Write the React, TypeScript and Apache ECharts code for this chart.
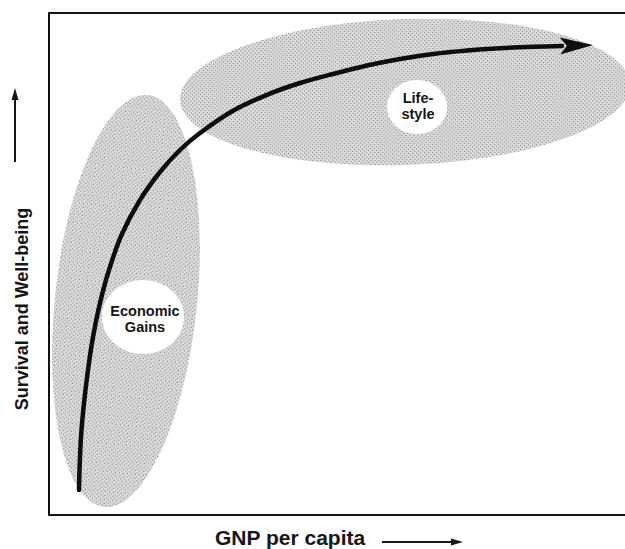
import React, { useEffect, useRef } from "react";
import * as echarts from "echarts";

// Axis ranges (arbitrary units: GNP per capita, survival and well-being)
const xRange = [0, 576];
const yRange = [0, 502];

// Main curve
const curveX = [30, 30.5, 32, 35, 39, 44, 51, 60, 72.5, 91, 111, 131, 151, 184, 218, 251, 284, 318, 351, 384, 418, 451, 484, 513];
const curveY = [25, 45, 78, 112, 145, 178, 212, 245, 280, 315, 343, 365, 382, 404.3, 420.2, 432, 441, 449.5, 456, 461, 464.5, 466.8, 468.2, 469];
const arrowBase = [513, 469];
const arrowTip = [544, 470];

// Shaded regions: [cx, cy, rx, ry, angleDeg]
const regionNames = ["Economic Gains", "Life-style"];
const regionShapes = [
  [77, 214, 71, 207, -6],
  [356, 423, 225, 73, 2],
];
// White discs holding the labels: [cx, cy, rx, ry]
const labelDiscs = [
  [94, 198, 41, 37],
  [368, 408, 30, 27],
];
const labelTexts = ["Economic\nGains", "Life-\nstyle"];
const labelPos = [
  [96, 196],
  [369, 409],
];

const xTitle = "GNP per capita";
const yTitle = "Survival and Well-being";

const FONT = '"Liberation Sans", Arial, Helvetica, sans-serif';

function makePattern() {
  const n = 4;
  const c = document.createElement("canvas");
  c.width = n;
  c.height = n;
  const ctx = c.getContext("2d");
  if (ctx) {
    ctx.fillStyle = "#ececec";
    ctx.fillRect(0, 0, n, n);
    const dots = [
      [1, 1],
      [3, 3],
    ];
    ctx.fillStyle = "#cbcbcb";
    dots.forEach(([x, y]) => {
      [
        [1, 0],
        [-1, 0],
        [0, 1],
        [0, -1],
      ].forEach(([ox, oy]) => ctx.fillRect((x + ox + n) % n, (y + oy + n) % n, 1, 1));
    });
    ctx.fillStyle = "#858585";
    dots.forEach(([x, y]) => ctx.fillRect(x, y, 1, 1));
  }
  return { image: c.toDataURL("image/png"), repeat: "repeat", imageWidth: n, imageHeight: n };
}

export default function App() {
  const ref = useRef<HTMLDivElement>(null);
  useEffect(() => {
    if (!ref.current) return;
    const chart = echarts.init(ref.current, null, { renderer: "svg" });
    const pattern = makePattern();
    const axisCommon = {
      type: "value",
      axisTick: { show: false },
      axisLabel: { show: false },
      splitLine: { show: false },
      axisLine: { show: true, lineStyle: { color: "#111", width: 2 } },
    };
    chart.setOption({
      animation: false,
      backgroundColor: "#fff",
      grid: { left: 49, top: 13, width: 576, height: 502 },
      xAxis: [
        { ...axisCommon, min: xRange[0], max: xRange[1], position: "bottom" },
        { ...axisCommon, min: xRange[0], max: xRange[1], position: "top" },
      ],
      yAxis: [{ ...axisCommon, min: yRange[0], max: yRange[1], position: "left" }],
      series: [
        {
          type: "custom",
          name: "regions",
          silent: true,
          clip: false,
          data: regionShapes.map((r, i) => ({ name: regionNames[i], value: r })),
          renderItem: (params: any, api: any) => {
            const c = api.coord([api.value(0), api.value(1)]);
            const s = api.size([api.value(2), api.value(3)]);
            return {
              type: "ellipse",
              x: c[0],
              y: c[1],
              rotation: (api.value(4) * Math.PI) / 180,
              shape: { cx: 0, cy: 0, rx: s[0], ry: s[1] },
              style: { fill: pattern as any },
            };
          },
        },
        {
          type: "custom",
          name: "labels",
          silent: true,
          clip: false,
          data: labelDiscs.map((d, i) => ({ name: regionNames[i], value: [...d, labelPos[i][0], labelPos[i][1]] })),
          renderItem: (params: any, api: any) => {
            const c = api.coord([api.value(0), api.value(1)]);
            const s = api.size([api.value(2), api.value(3)]);
            const t = api.coord([api.value(4), api.value(5)]);
            return {
              type: "group",
              children: [
                {
                  type: "ellipse",
                  shape: { cx: c[0], cy: c[1], rx: s[0], ry: s[1] },
                  style: { fill: "#ffffff" },
                },
                {
                  type: "text",
                  x: t[0],
                  y: t[1],
                  style: {
                    text: labelTexts[params.dataIndex],
                    fontFamily: FONT,
                    fontWeight: "bold",
                    fontSize: 14.5,
                    lineHeight: 16.5,
                    align: "center",
                    verticalAlign: "middle",
                    fill: "#161616",
                  },
                },
              ],
            };
          },
        },
        {
          type: "line",
          name: "trajectory",
          silent: true,
          symbol: "none",
          smooth: 0.3,
          lineStyle: { color: "#0d0d0d", width: 4.5, cap: "round" },
          data: curveX.map((x, i) => [x, curveY[i]]),
        },
        {
          type: "custom",
          name: "arrowhead",
          silent: true,
          clip: false,
          data: [[arrowBase[0], arrowBase[1], arrowTip[0], arrowTip[1]]],
          renderItem: (params: any, api: any) => {
            const b = api.coord([api.value(0), api.value(1)]);
            const t = api.coord([api.value(2), api.value(3)]);
            const dx = t[0] - b[0];
            const dy = t[1] - b[1];
            const len = Math.sqrt(dx * dx + dy * dy) || 1;
            const ux = dx / len;
            const uy = dy / len;
            const px = -uy;
            const py = ux;
            const hw = 8.5;
            const back = [b[0] - ux * 2, b[1] - uy * 2];
            const notch = [b[0] + ux * 5, b[1] + uy * 5];
            return {
              type: "polygon",
              shape: {
                points: [
                  t,
                  [back[0] + px * hw, back[1] + py * hw],
                  notch,
                  [back[0] - px * hw, back[1] - py * hw],
                ],
              },
              style: { fill: "#0d0d0d" },
            };
          },
        },
      ],
      graphic: [
        {
          type: "text",
          x: 215,
          y: 537,
          style: {
            text: xTitle,
            fontFamily: FONT,
            fontWeight: "bold",
            fontSize: 21,
            align: "left",
            verticalAlign: "middle",
            fill: "#161616",
          },
        },
        {
          type: "line",
          shape: { x1: 382, y1: 542, x2: 455, y2: 542 },
          style: { stroke: "#161616", lineWidth: 2 },
        },
        {
          type: "polygon",
          shape: { points: [[463, 542], [451, 538.5], [451, 545.5]] },
          style: { fill: "#161616" },
        },
        {
          type: "text",
          x: 21.5,
          y: 309,
          rotation: Math.PI / 2,
          style: {
            text: yTitle,
            fontFamily: FONT,
            fontWeight: "bold",
            fontSize: 18,
            align: "center",
            verticalAlign: "middle",
            fill: "#161616",
          },
        },
        {
          type: "line",
          shape: { x1: 15, y1: 162, x2: 15, y2: 97 },
          style: { stroke: "#161616", lineWidth: 2 },
        },
        {
          type: "polygon",
          shape: { points: [[15, 88], [11.5, 100], [18.5, 100]] },
          style: { fill: "#161616" },
        },
      ],
    });
    return () => chart.dispose();
  }, []);
  return (
    <div
      ref={ref}
      style={{ position: "absolute", left: 0, top: 0, width: 625, height: 549, background: "#fff" }}
    />
  );
}
